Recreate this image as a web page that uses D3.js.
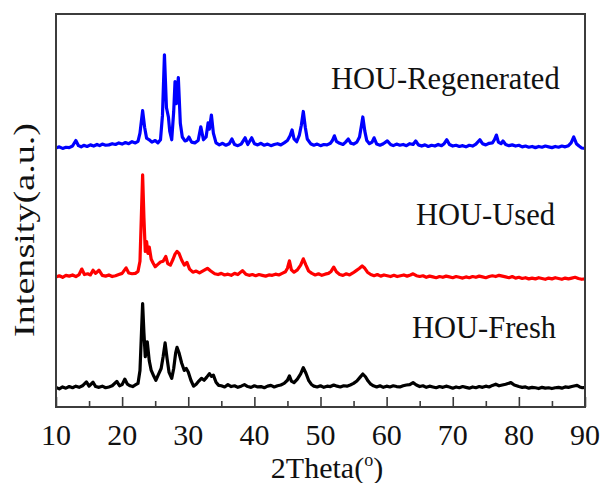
<!DOCTYPE html>
<html>
<head>
<meta charset="utf-8">
<script src="https://cdn.jsdelivr.net/npm/d3@7"></script>
<style>
  html, body { margin: 0; padding: 0; background: #fff; }
  svg { display: block; }
  text { font-family: "Liberation Serif", "Times New Roman", serif; fill: #111; }
</style>
</head>
<body>
<svg id="chart" width="604" height="483"></svg>
<script>
/* XRD patterns of HOU: fresh / used / regenerated, stacked with offsets. */

const seriesNames = ['HOU-Fresh', 'HOU-Used', 'HOU-Regenerated'];
const seriesOffsets = [4.8, 33.1, 66.2];
const seriesColors = ['#000000', '#ff0000', '#0000ff'];
const xTicks = [10, 20, 30, 40, 50, 60, 70, 80, 90];
const xMinorTicks = [15, 25, 35, 45, 55, 65, 75, 85];

// [2theta, intensity above own baseline]
const fresh = [
  [10,0.2],[10.5,-0.2],[11,0.3],[11.5,0],[12,0.4],[12.5,0.1],[13,0.5],[13.5,0.2],[14,0.6],[14.6,1.6],
  [15,0.5],[15.6,1.5],[16,0.4],[16.5,0.2],[17,0.5],[17.5,0.1],[18,0.3],[18.5,0.6],[19.2,1.7],[19.6,0.6],
  [20,0.9],[20.4,2.3],[20.8,1.0],[21.2,0.6],[21.6,0.4],[22,0.8],[22.4,1.2],[22.7,4.5],[22.9,13],[23.1,21.5],
  [23.3,14],[23.5,8],[23.8,11.8],[24.1,7],[24.4,4.5],[24.8,3.0],[25.1,2.0],[25.5,3.5],[25.9,5],[26.2,8],
  [26.5,11.5],[26.8,7.5],[27.1,4],[27.5,2.5],[27.8,5],[28.1,9],[28.3,10.4],[28.6,9],[29.0,6.4],[29.4,4.5],
  [29.7,5],[30.0,4.1],[30.4,2],[30.8,0.5],[31.2,1.0],[31.6,1.8],[32.0,2.5],[32.4,2.0],[32.8,2.8],[33.2,3.7],
  [33.5,3.0],[33.8,3.3],[34.2,1.5],[34.6,0.7],[35,0.6],[35.5,0.3],[36,0.9],[36.5,0.4],[37,0.6],[37.5,0.2],
  [38,0.5],[38.5,0.9],[39,0.4],[39.5,0.2],[40,0.6],[40.5,0.3],[41,0.4],[41.5,0.1],[42,0.5],[42.5,0.7],
  [43,0.3],[43.5,0.6],[44,0.8],[44.5,1.2],[45,2.0],[45.3,3.1],[45.6,1.8],[46,1.4],[46.5,2.3],[47,3.6],
  [47.4,5.2],[47.8,3.8],[48.2,2.0],[48.6,1.0],[49,0.5],[49.5,0.3],[50,0.6],[50.5,0.2],[51,0.5],[51.5,0.4],
  [52,0.8],[52.5,0.5],[53,0.3],[53.5,0.6],[54,0.5],[54.5,0.8],[55,1.2],[55.5,1.8],[56,2.8],[56.4,3.6],
  [56.8,2.9],[57.2,1.8],[57.6,1.0],[58,0.6],[58.5,0.3],[59,0.6],[59.5,0.2],[60,0.5],[60.5,0.3],[61,0.6],
  [61.5,0.4],[62,0.3],[62.5,0.6],[63,0.8],[63.5,0.9],[64,1.4],[64.5,0.8],[65,0.4],[65.5,0.6],[66,0.2],
  [66.5,0.5],[67,0.3],[67.5,0.1],[68,0.4],[68.5,0.2],[69,0.5],[69.5,0.3],[70,0],[70.5,0.3],[71,0.1],
  [71.5,0.4],[72,0.2],[72.5,0],[73,0.3],[73.5,0.1],[74,0.4],[74.5,0.2],[75,0.5],[75.5,0.3],[76,0.7],
  [76.5,1.0],[77,0.6],[77.5,0.8],[78,1.0],[78.8,1.4],[79.3,0.8],[80,0.4],[80.5,0.2],[81,0.3],[81.5,0],
  [82,0.2],[82.5,0.1],[83,-0.1],[83.5,0.2],[84,0],[84.5,0.1],[85,-0.1],[85.5,0.1],[86,0.2],[86.5,0],
  [87,0.3],[87.5,0.2],[88,0.4],[88.5,0.6],[88.8,0.7],[89.2,0.3],[89.6,0.1],[90,0.2]
];

const used = [
  [10,0],[10.5,0.3],[11,-0.1],[11.5,0.4],[12,0.2],[12.5,0.5],[13,0.1],[13.5,0.6],[13.9,2.0],[14.3,0.6],
  [14.8,0.8],[15.2,0.5],[15.6,1.7],[16,0.9],[16.5,1.7],[17,0.4],[17.5,0.2],[18,0.5],[18.5,0.1],[19,0.3],
  [19.5,0.6],[20,0.9],[20.6,2.3],[21,1.0],[21.5,0.8],[22,0.9],[22.4,1.4],[22.7,4],[22.9,15],[23.1,26],
  [23.3,15],[23.5,6.5],[23.7,9],[23.9,6],[24.1,7.6],[24.4,4.5],[24.7,3.5],[25.0,2.6],[25.4,3.2],[25.8,3.8],
  [26.2,4.0],[26.6,5.2],[26.9,3.4],[27.3,3.0],[27.7,4.5],[28.0,5.8],[28.3,6.5],[28.6,6.0],[29.0,4.3],[29.4,3.0],
  [29.8,3.7],[30.2,2.0],[30.7,1.2],[31.2,1.5],[31.7,1.0],[32.3,1.6],[32.9,2.2],[33.4,1.5],[34,0.8],[34.5,0.6],
  [35,0.9],[35.5,0.5],[36,0.7],[36.5,0.4],[37,0.9],[37.5,0.6],[38.2,1.6],[38.7,0.7],[39.2,0.4],[39.7,0.6],
  [40.2,0.3],[40.7,0.6],[41.2,0.4],[41.7,0.2],[42.2,0.5],[42.7,0.4],[43.2,0.7],[43.7,0.5],[44.2,0.9],[44.7,1.3],
  [45.0,2.2],[45.3,4.1],[45.6,1.8],[46.0,1.2],[46.5,1.8],[47.0,3.0],[47.4,4.6],[47.8,3.0],[48.2,1.5],[48.7,0.9],
  [49.2,0.5],[49.7,0.8],[50.2,0.4],[50.7,0.7],[51.2,0.9],[51.6,1.4],[52.0,2.5],[52.4,1.3],[52.9,0.6],[53.4,0.4],
  [53.9,0.8],[54.4,0.5],[54.9,1.0],[55.4,1.6],[55.9,2.2],[56.3,2.8],[56.7,2.2],[57.1,1.2],[57.6,0.6],[58.1,0.3],
  [58.6,0.6],[59.1,0.2],[59.6,0.5],[60.1,0.3],[60.6,0.1],[61.1,0.4],[61.6,0.1],[62.1,0.3],[62.6,0.5],[63.1,0.2],
  [63.6,0.5],[64.0,0.8],[64.5,0.3],[65,0.1],[65.5,0.3],[66,-0.1],[66.5,0.2],[67,0],[67.5,-0.2],[68,0.1],
  [68.5,-0.1],[69,0.2],[69.5,0],[70,-0.2],[70.5,0.1],[71,-0.1],[71.5,-0.3],[72,0],[72.5,-0.2],[73,0.1],
  [73.5,-0.1],[74,0.2],[74.5,0],[75,-0.2],[75.5,0.1],[76,0.3],[76.5,0.1],[77,0.4],[77.5,0.2],[78,0],
  [78.5,-0.2],[79,0.1],[79.5,-0.3],[80,-0.1],[80.5,-0.4],[81,-0.2],[81.5,-0.5],[82,-0.3],[82.5,-0.5],[83,-0.2],
  [83.5,-0.4],[84,-0.6],[84.5,-0.3],[85,-0.5],[85.5,-0.2],[86,-0.4],[86.5,-0.6],[87,-0.3],[87.5,-0.5],[88,-0.3],
  [88.5,-0.1],[89,-0.4],[89.5,-0.6],[90,-0.5]
];

const regenerated = [
  [10,-0.3],[10.5,0],[11,-0.4],[11.5,-0.1],[12,-0.2],[12.5,0.2],[13,1.6],[13.4,0.3],[13.8,0],[14.2,0.4],
  [14.7,0.1],[15.2,0.5],[15.7,0.2],[16.2,0.6],[16.6,0.3],[17,0.7],[17.5,0.4],[18,0.5],[18.5,0.8],[19,0.6],
  [19.5,1.0],[20,0.7],[20.5,1.1],[21,0.8],[21.5,1.3],[22,1.0],[22.4,1.4],[22.7,3.5],[23.1,9.2],[23.4,5],
  [23.7,2.2],[24.1,1.8],[24.5,1.2],[25,1.6],[25.4,1.0],[25.8,1.8],[26.1,8],[26.4,23.4],[26.7,10],[27.0,7.6],
  [27.2,4],[27.5,1.8],[27.8,9],[28.0,16.6],[28.2,11],[28.5,17.6],[28.8,6],[29.1,2.5],[29.5,1.5],[29.8,1.7],
  [30.1,2.5],[30.5,1.2],[31.0,1.0],[31.5,1.6],[31.9,5.1],[32.3,1.8],[32.7,2.5],[33.0,6.1],[33.2,4.5],[33.5,8.1],
  [33.8,3.5],[34.2,1.0],[34.7,0.5],[35.2,0.9],[35.7,0.4],[36.2,0.8],[36.6,2.0],[37.0,0.6],[37.5,0.3],[38,0.7],
  [38.6,2.3],[39.0,0.6],[39.6,2.3],[40.0,0.8],[40.5,0.5],[41,0.9],[41.5,0.4],[42,0.7],[42.5,0.3],[43,0.6],
  [43.5,0.8],[44,0.5],[44.5,1.0],[45,1.6],[45.4,2.8],[45.7,4.3],[46.0,2.0],[46.4,1.3],[46.8,3.0],[47.1,5.5],
  [47.4,9.0],[47.7,5],[48.0,2.0],[48.5,0.8],[49,0.4],[49.5,0.7],[50,0.3],[50.5,0.6],[51,0.5],[51.5,0.9],
  [51.8,1.6],[52.1,2.8],[52.4,1.4],[52.9,0.9],[53.4,0.6],[53.8,1.2],[54.2,2.0],[54.6,0.9],[55,0.7],[55.5,1.2],
  [55.9,2.5],[56.2,5.5],[56.4,7.6],[56.7,4],[57.0,1.6],[57.4,0.8],[57.8,1.2],[58.1,2.3],[58.5,0.7],[59,0.4],
  [59.5,0.8],[60.1,1.5],[60.6,0.6],[61,0.3],[61.5,0.7],[62,0.4],[62.5,0.6],[63,0.3],[63.5,0.8],[64,0.6],
  [64.4,1.5],[64.8,0.5],[65.3,0.2],[65.8,0.5],[66.3,0.1],[66.8,0.4],[67.3,0.2],[67.8,0.6],[68.3,0.3],[68.7,0.8],
  [69.1,1.8],[69.5,0.6],[70,0.2],[70.5,0.4],[71,0.1],[71.5,0.3],[72,0],[72.5,0.4],[73,0.2],[73.5,0.7],
  [74.1,1.8],[74.5,0.8],[75,0.5],[75.5,0.9],[76,1.0],[76.3,1.8],[76.6,3.0],[76.9,1.2],[77.3,0.8],[77.6,1.5],
  [78,0.6],[78.5,0.3],[79,0.5],[79.5,0.2],[80,0.4],[80.5,0],[81,0.2],[81.5,-0.1],[82,0.1],[82.5,-0.2],
  [83,0.1],[83.5,-0.1],[84,0.2],[84.5,0],[85,-0.2],[85.5,0.1],[86,-0.1],[86.5,0.2],[87,0],[87.5,0.3],
  [87.9,1.0],[88.3,2.5],[88.7,0.8],[89.1,0.2],[89.5,-0.3],[90,-0.4]
];

const seriesData = [fresh, used, regenerated];

const svg = d3.select('#chart');
const m = { l: 56, r: 19, t: 14, b: 76 };
const W = 604, H = 483;
const x = d3.scaleLinear().domain([10, 90]).range([m.l, W - m.r]);
const y = d3.scaleLinear().domain([0, 100]).range([H - m.b, m.t]);

// traces
const line = d3.line().x(d => x(d[0])).y(d => y(d[1]));
seriesData.forEach((pts, i) => {
  const off = seriesOffsets[i];
  svg.append('path')
    .attr('d', line(pts.map(p => [p[0], p[1] + off])))
    .attr('fill', 'none')
    .attr('stroke', seriesColors[i])
    .attr('stroke-width', 3.2)
    .attr('stroke-linejoin', 'round');
});

// series labels
const labelPos = [[412, 338], [416, 225], [331, 89]];
seriesNames.forEach((name, i) => {
  svg.append('text').attr('x', labelPos[i][0]).attr('y', labelPos[i][1])
    .attr('font-size', 30.5).text(name);
});

// frame
svg.append('rect')
  .attr('x', x(10)).attr('y', y(100))
  .attr('width', x(90) - x(10)).attr('height', y(0) - y(100))
  .attr('fill', 'none').attr('stroke', '#3c3c3c').attr('stroke-width', 2);

// bottom axis, ticks pointing inward
const gx = svg.append('g').attr('transform', `translate(0,${y(0)})`);
gx.call(d3.axisBottom(x).tickValues(xTicks).tickSize(-10).tickPadding(0).tickFormat(''))
  .call(g => g.select('.domain').remove())
  .call(g => g.selectAll('line').attr('stroke', '#3c3c3c').attr('stroke-width', 1.6));
gx.append('g')
  .call(d3.axisBottom(x).tickValues(xMinorTicks).tickSize(-6).tickFormat(''))
  .call(g => g.select('.domain').remove())
  .call(g => g.selectAll('line').attr('stroke', '#3c3c3c').attr('stroke-width', 1.6));

svg.selectAll('.xlab').data(xTicks).join('text')
  .attr('class', 'xlab')
  .attr('x', d => x(d)).attr('y', 445)
  .attr('text-anchor', 'middle').attr('font-size', 30)
  .text(d => d);

// axis titles
const xt = svg.append('text').attr('x', 327).attr('y', 478)
  .attr('text-anchor', 'middle').attr('font-size', 30);
xt.append('tspan').text('2Theta(');
xt.append('tspan').attr('font-size', 18).attr('dy', -12).text('o');
xt.append('tspan').attr('dy', 12).text(')');

svg.append('text')
  .attr('transform', 'translate(34,230) rotate(-90)')
  .attr('text-anchor', 'middle').attr('font-size', 30)
  .attr('textLength', 214).attr('lengthAdjust', 'spacingAndGlyphs')
  .text('Intensity(a.u.)');
</script>
</body>
</html>
